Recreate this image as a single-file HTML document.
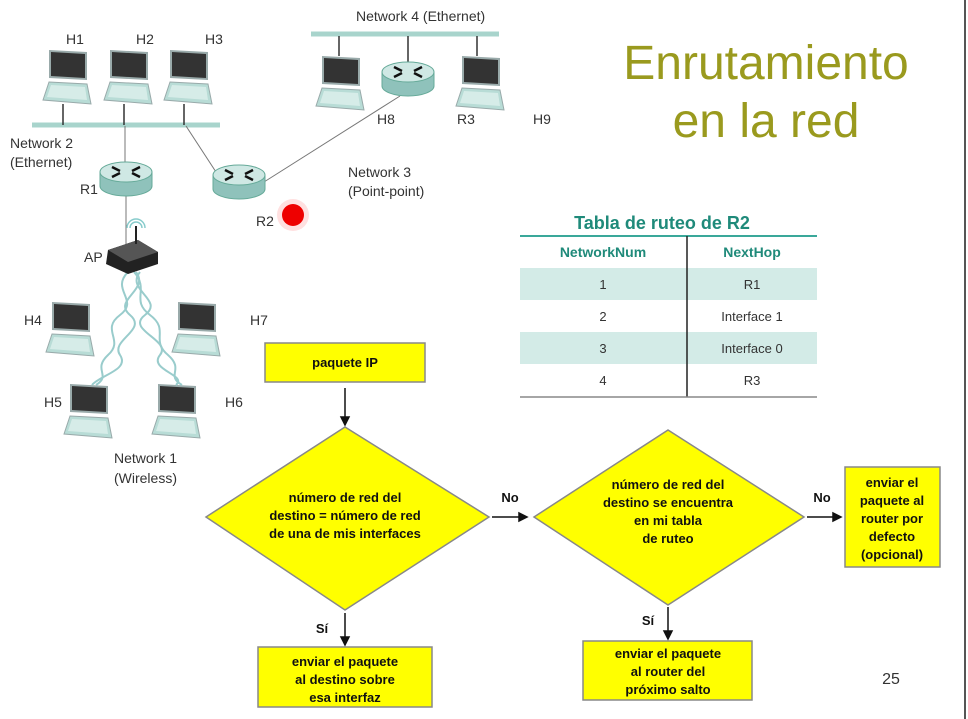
<!DOCTYPE html>
<html><head><meta charset="utf-8"><style>
html,body{margin:0;padding:0;background:#fff;}
body{width:968px;height:719px;overflow:hidden;position:relative;font-family:"Liberation Sans",sans-serif;}
svg{position:absolute;left:0;top:0;}
</style></head><body>
<svg width="968" height="719" viewBox="0 0 968 719" xmlns="http://www.w3.org/2000/svg" font-family="Liberation Sans, sans-serif">
<defs>
<g id="lap">
  <polygon points="2,0 40,2 40,30 2,28" fill="#9aa" />
  <polygon points="4,2 38,4 38,28 4,26" fill="#333"/>
  <polygon points="2,32 40,34 44,54 -4,50" fill="#b8dcd6" stroke="#9aa" stroke-width="1"/>
  <polygon points="4,35 38,37 40,50 0,47" fill="#d6ece8"/>
</g>
<g id="rtr">
  <path d="M-26,0 v14 a26,10 0 0 0 52,0 v-14" fill="#8fc2bb" stroke="#6a9" stroke-width="1"/>
  <ellipse cx="0" cy="0" rx="26" ry="10" fill="#cfe8e4" stroke="#6a9" stroke-width="1"/>
  <path d="M-14,-5 l8,4 M-14,5 l8,-4 M14,-5 l-8,4 M14,5 l-8,-4" stroke="#111" stroke-width="2.5"/>
</g>
</defs>
<line x1="965" y1="0" x2="965" y2="719" stroke="#555" stroke-width="2"/>
<line x1="32" y1="125" x2="220" y2="125" stroke="#a8d4cc" stroke-width="5"/>
<line x1="311" y1="34" x2="499" y2="34" stroke="#a8d4cc" stroke-width="5"/>
<g stroke="#333" stroke-width="1.5">
<line x1="63" y1="104" x2="63" y2="125"/><line x1="124" y1="104" x2="124" y2="125"/><line x1="184" y1="104" x2="184" y2="125"/>
<line x1="339" y1="36" x2="339" y2="56"/><line x1="408" y1="36" x2="408" y2="64"/><line x1="477" y1="36" x2="477" y2="56"/>
</g>
<g stroke="#777" stroke-width="1">
<line x1="125" y1="126" x2="125" y2="168"/><line x1="186" y1="126" x2="216" y2="172"/>
<line x1="264" y1="182" x2="400" y2="96"/><line x1="126" y1="194" x2="126" y2="245"/>
</g>
<use href="#lap" x="47" y="50"/><use href="#lap" x="108" y="50"/><use href="#lap" x="168" y="50"/>
<use href="#lap" x="320" y="56"/><use href="#lap" x="460" y="56"/>
<use href="#lap" x="50" y="302"/><use href="#lap" x="176" y="302"/>
<use href="#lap" x="68" y="384"/><use href="#lap" x="156" y="384"/>
<use href="#rtr" x="126" y="172"/><use href="#rtr" x="239" y="175"/><use href="#rtr" x="408" y="72"/>
<g fill="none" stroke="#9cc" stroke-width="2">
<path d="M128,272 C110,290 140,300 120,315 C100,330 125,340 108,355 C92,370 112,375 96,385"/>
<path d="M136,272 C150,290 112,300 130,315 C148,330 110,340 120,355 C130,370 100,375 92,385"/>
<path d="M134,272 C150,290 130,300 150,315 C170,330 150,340 168,355 C185,370 165,375 182,385"/>
<path d="M140,272 C125,290 165,300 145,315 C125,330 172,340 160,355 C148,370 188,375 176,385"/>
</g>
<path d="M108,250 l30,-10 l20,12 v12 l-30,10 l-22,-10 z" fill="#222"/>
<path d="M108,250 l30,-10 l20,12 l-30,10 z" fill="#555"/>
<line x1="136" y1="244" x2="136" y2="226" stroke="#222" stroke-width="2"/>
<path d="M130,228 a6,6 0 0 1 12,0 M127,228 a9,9 0 0 1 18,0" fill="none" stroke="#8cc" stroke-width="1.5"/>
<circle cx="293" cy="215" r="16" fill="#fcc" opacity="0.6"/>
<circle cx="293" cy="215" r="11" fill="#e00"/>
<g font-size="14" fill="#333">
<text x="66" y="44">H1</text><text x="136" y="44">H2</text><text x="205" y="44">H3</text>
<text x="356" y="21">Network 4 (Ethernet)</text>
<text x="377" y="124">H8</text><text x="457" y="124">R3</text><text x="533" y="124">H9</text>
<text x="10" y="148">Network 2</text><text x="10" y="167">(Ethernet)</text>
<text x="80" y="194">R1</text><text x="256" y="226">R2</text>
<text x="348" y="177">Network 3</text><text x="348" y="196">(Point-point)</text>
<text x="84" y="262">AP</text>
<text x="24" y="325">H4</text><text x="250" y="325">H7</text>
<text x="44" y="407">H5</text><text x="225" y="407">H6</text>
<text x="114" y="463">Network 1</text><text x="114" y="483">(Wireless)</text>
</g>
<text x="766" y="79" font-size="48" fill="#9a9a1e" text-anchor="middle">Enrutamiento</text>
<text x="766" y="137" font-size="48" fill="#9a9a1e" text-anchor="middle">en la red</text>
<text x="662" y="229" font-size="18" font-weight="bold" fill="#1f8a7a" text-anchor="middle">Tabla de ruteo de R2</text>
<line x1="520" y1="236" x2="817" y2="236" stroke="#3aa89a" stroke-width="2"/>
<rect x="520" y="268" width="297" height="32" fill="#d3ebe7"/>
<rect x="520" y="332" width="297" height="32" fill="#d3ebe7"/>
<line x1="687" y1="236" x2="687" y2="397" stroke="#222" stroke-width="1.5"/>
<line x1="520" y1="397" x2="817" y2="397" stroke="#888" stroke-width="1.5"/>
<g font-size="14" font-weight="bold" fill="#1f8a7a" text-anchor="middle">
<text x="603" y="257">NetworkNum</text><text x="752" y="257">NextHop</text></g>
<g font-size="13" fill="#333" text-anchor="middle">
<text x="603" y="289">1</text><text x="752" y="289">R1</text>
<text x="603" y="321">2</text><text x="752" y="321">Interface 1</text>
<text x="603" y="353">3</text><text x="752" y="353">Interface 0</text>
<text x="603" y="385">4</text><text x="752" y="385">R3</text></g>
<g fill="#ffff00" stroke="#888" stroke-width="1.5">
<rect x="265" y="343" width="160" height="39"/>
<polygon points="345,427 489,517 345,610 206,517"/>
<polygon points="668,430 804,517 668,605 534,517"/>
<rect x="845" y="467" width="95" height="100"/>
<rect x="258" y="647" width="174" height="60"/>
<rect x="583" y="641" width="169" height="59"/>
</g>
<g stroke="#111" stroke-width="1.5" fill="#111">
<line x1="345" y1="388" x2="345" y2="418"/><polygon points="341,417 349,417 345,425"/>
<line x1="492" y1="517" x2="520" y2="517"/><polygon points="519,513 519,521 527,517"/>
<line x1="807" y1="517" x2="834" y2="517"/><polygon points="833,513 833,521 841,517"/>
<line x1="345" y1="613" x2="345" y2="638"/><polygon points="341,637 349,637 345,645"/>
<line x1="668" y1="607" x2="668" y2="632"/><polygon points="664,631 672,631 668,639"/>
</g>
<g font-size="13" font-weight="bold" fill="#111" text-anchor="middle">
<text x="345" y="367">paquete IP</text>
<text x="345" y="502">número de red del</text><text x="345" y="520">destino = número de red</text><text x="345" y="538">de una de mis interfaces</text>
<text x="668" y="489">número de red del</text><text x="668" y="507">destino se encuentra</text><text x="668" y="525">en mi tabla</text><text x="668" y="543">de ruteo</text>
<text x="892" y="487">enviar el</text><text x="892" y="505">paquete al</text><text x="892" y="523">router por</text><text x="892" y="541">defecto</text><text x="892" y="559">(opcional)</text>
<text x="345" y="666">enviar el paquete</text><text x="345" y="684">al destino sobre</text><text x="345" y="702">esa interfaz</text>
<text x="668" y="658">enviar el paquete</text><text x="668" y="676">al router del</text><text x="668" y="694">próximo salto</text>
<text x="510" y="502">No</text><text x="822" y="502">No</text>
<text x="322" y="633">Sí</text><text x="648" y="625">Sí</text>
</g>
<text x="891" y="684" font-size="16" fill="#333" text-anchor="middle">25</text>
</svg>
</body></html>
